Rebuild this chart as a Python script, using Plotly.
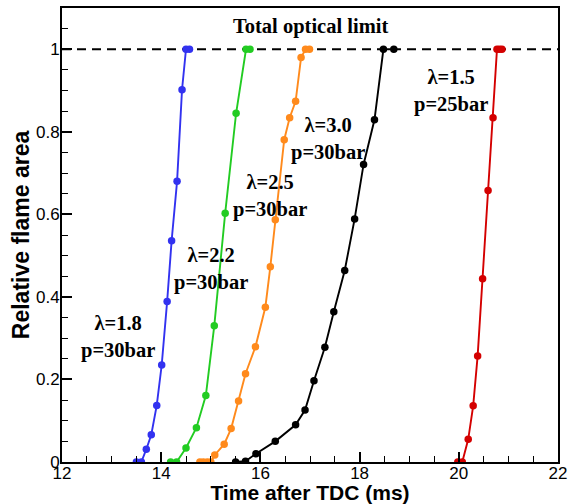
import plotly.graph_objects as go

# ---- data ----
lam18_t = [13.5, 13.6, 13.7, 13.8, 13.91, 14.01, 14.12, 14.21, 14.32, 14.42, 14.5, 14.57]
lam18_a = [0, 0, 0.031, 0.066, 0.137, 0.235, 0.389, 0.536, 0.680, 0.902, 1.0, 1.0]

lam22_t = [14.19, 14.31, 14.5, 14.71, 14.9, 15.07, 15.29, 15.51, 15.71, 15.79]
lam22_a = [0, 0, 0.034, 0.083, 0.161, 0.330, 0.603, 0.845, 1.0, 1.0]

lam25_t = [14.78, 14.85, 14.93, 15.0, 15.08, 15.27, 15.41, 15.56, 15.70, 15.90, 16.10,
           16.20, 16.30, 16.48, 16.59, 16.71, 16.82, 16.91, 16.99]
lam25_a = [0, 0, 0, 0, 0.017, 0.043, 0.081, 0.148, 0.214, 0.279, 0.375,
           0.473, 0.587, 0.781, 0.834, 0.874, 0.980, 1.0, 1.0]

lam30_t = [15.5, 15.7, 15.91, 16.3, 16.71, 16.9, 17.08, 17.3, 17.48, 17.7, 17.9, 18.08, 18.3, 18.48, 18.69]
lam30_a = [0, 0.002, 0.020, 0.050, 0.090, 0.126, 0.197, 0.278, 0.364, 0.464, 0.589, 0.721, 0.829, 1.0, 1.0]

lam15_t = [19.98, 20.07, 20.19, 20.29, 20.38, 20.48, 20.59, 20.69, 20.77, 20.82, 20.87]
lam15_a = [0, 0, 0.055, 0.136, 0.257, 0.444, 0.658, 0.834, 1.0, 1.0, 1.0]

optical_limit = 1.0

series = [
    ("λ=1.8, p=30bar", lam18_t, lam18_a, "#3232f0"),
    ("λ=2.2, p=30bar", lam22_t, lam22_a, "#22cc22"),
    ("λ=2.5, p=30bar", lam25_t, lam25_a, "#ff8a1c"),
    ("λ=3.0, p=30bar", lam30_t, lam30_a, "#000000"),
    ("λ=1.5, p=25bar", lam15_t, lam15_a, "#d40000"),
]

# label texts and their anchor values
label_texts = ["λ=1.8<br>p=30bar", "λ=2.2<br>p=30bar", "λ=2.5<br>p=30bar",
               "λ=3.0<br>p=30bar", "λ=1.5<br>p=25bar"]
label_x = [13.12, 15.0, 16.2, 17.36, 19.84]
label_y = [0.302, 0.468, 0.645, 0.783, 0.898]

fig = go.Figure()

fig.add_hline(y=optical_limit, line=dict(color="black", width=2, dash="9px,6px"), layer="below")

for name, t, a, col in series:
    fig.add_trace(go.Scatter(
        x=t, y=a, mode="lines+markers", name=name,
        line=dict(color=col, width=1.9),
        marker=dict(color=col, size=7.5, symbol="circle"),
        showlegend=False,
    ))

serif = "Liberation Serif, Times New Roman, serif"
for txt, lx, ly in zip(label_texts, label_x, label_y):
    fig.add_annotation(x=lx, y=ly, text=f"<b>{txt}</b>", showarrow=False,
                       font=dict(family=serif, size=20.5, color="black"),
                       xanchor="center", yanchor="middle")

fig.add_annotation(x=17.0, y=1.054, text="<b>Total optical limit</b>", showarrow=False,
                   font=dict(family=serif, size=20.5, color="black"),
                   xanchor="center", yanchor="middle")

sans = "Liberation Sans, Arial, sans-serif"
axis_common = dict(
    showline=True, linecolor="black", linewidth=2, mirror=True,
    ticks="inside", ticklen=10, tickwidth=2, tickcolor="black",
    showgrid=False, zeroline=False,
    tickfont=dict(family=sans, size=17, color="black"),
)

fig.update_xaxes(
    range=[12, 22], dtick=2, tick0=12, ticklabelstandoff=-5,
    minor=dict(dtick=0.5, ticks="inside", ticklen=6, tickwidth=1, tickcolor="black"),
    title=dict(text="<b>Time after TDC (ms)</b>", font=dict(family=sans, size=21, color="black"), standoff=3),
    **axis_common,
)
fig.update_yaxes(
    range=[0, 1.1], dtick=0.2, tick0=0, ticklabelstandoff=-3,
    minor=dict(dtick=0.05, ticks="inside", ticklen=6, tickwidth=1, tickcolor="black"),
    title=dict(text="<b>Relative flame area</b>", font=dict(family=sans, size=23, color="black"), standoff=0),
    **axis_common,
)

fig.update_layout(
    width=569, height=504,
    margin=dict(l=62, r=11, t=8, b=42, autoexpand=False),
    plot_bgcolor="white", paper_bgcolor="white",
)

fig.write_html("out.html", config={"displayModeBar": False},
               post_script="document.body.style.margin='0';document.body.style.overflow='hidden';")
